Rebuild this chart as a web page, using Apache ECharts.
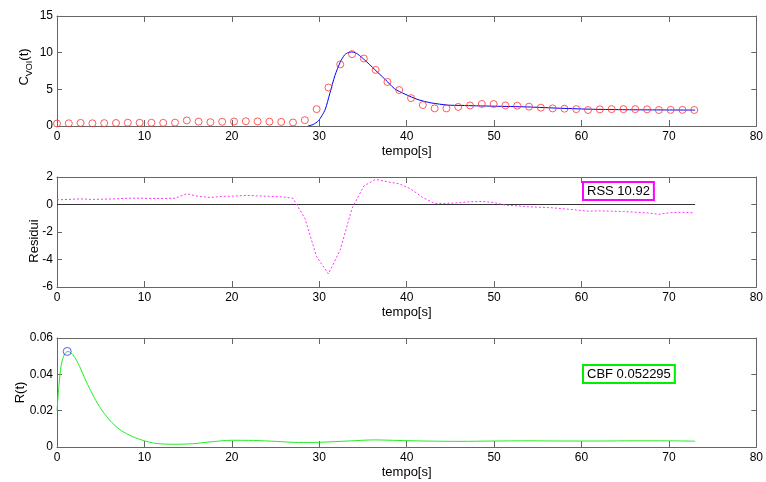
<!DOCTYPE html>
<html>
<head>
<meta charset="utf-8">
<script src="https://cdn.jsdelivr.net/npm/echarts@6/dist/echarts.min.js"></script>
<style>
html,body{margin:0;padding:0;background:#fff;}
#c{width:766px;height:482px;}
</style>
</head>
<body>
<div id="c"></div>
<script>
// ---- data ----
const time = [0,1.35,2.7,4.05,5.4,6.75,8.1,9.45,10.8,12.15,13.5,14.85,16.2,17.55,18.9,20.25,21.6,22.95,24.3,25.65,27,28.35,29.7,31.05,32.4,33.75,35.1,36.45,37.8,39.15,40.5,41.85,43.2,44.55,45.9,47.25,48.6,49.95,51.3,52.65,54,55.35,56.7,58.05,59.4,60.75,62.1,63.45,64.8,66.15,67.5,68.85,70.2,71.55,72.9];
const conc = [0.34,0.37,0.42,0.37,0.39,0.41,0.45,0.44,0.44,0.43,0.46,0.76,0.6,0.52,0.58,0.61,0.65,0.63,0.59,0.56,0.48,0.8,2.3,5.25,8.4,9.8,9.2,7.65,6.0,4.9,3.8,2.86,2.4,2.4,2.6,2.8,3.0,3.0,2.8,2.77,2.64,2.5,2.4,2.36,2.3,2.18,2.27,2.3,2.3,2.3,2.27,2.18,2.2,2.2,2.18];
const fitTime = [28.7,29.3,29.9,30.3,30.7,31.2,31.8,32.4,32.9,33.3,33.7,34.1,34.4,35.2,36.35,37.5,38.6,39.8,41.3,42.8,44.7,46.2,48,50,53.8,57.6,61.4,65.1,69,73];
const fitVal = [0,0.2,0.7,1.4,2.3,4.4,6.9,8.7,9.7,10.0,10.1,10.0,9.8,9.0,7.7,6.4,5.1,4.35,3.6,3.15,2.85,2.8,2.75,2.7,2.6,2.42,2.28,2.22,2.19,2.17];
const resid = [0.34,0.37,0.41,0.37,0.39,0.41,0.46,0.46,0.44,0.44,0.46,0.78,0.59,0.51,0.59,0.61,0.66,0.63,0.59,0.56,0.46,-1.0,-3.8,-5.05,-3.3,-0.28,1.35,1.83,1.65,1.5,1.12,0.5,0.08,0.08,0.12,0.2,0.22,0.15,-0.05,-0.1,-0.17,-0.2,-0.24,-0.32,-0.39,-0.49,-0.46,-0.49,-0.51,-0.56,-0.61,-0.71,-0.59,-0.56,-0.61];
const zeroLineX = [0,73];
const rTime = [0,0.23,0.49,0.87,1.25,1.82,2.58,3.34,4.1,4.85,6.0,7.1,8.26,9.78,11.3,13.5,15.5,17.5,20,22.5,25,27.6,30,33.3,36.3,39,42,46,50,54,58,62,66,70,73];
const rVal = [0.0199,0.0342,0.0453,0.0512,0.0526,0.0508,0.0444,0.0361,0.0287,0.0223,0.0149,0.0099,0.0066,0.0037,0.002,0.0015,0.0018,0.0028,0.0037,0.0036,0.0031,0.0025,0.0026,0.0033,0.0039,0.0036,0.0033,0.0031,0.0033,0.0034,0.0033,0.0033,0.0034,0.0034,0.0032];
const peakT = [1.17];
const peakR = [0.0526];
const xTicks = {min:0, max:80, interval:10};
const rssText = 'RSS 10.92';
const cbfText = 'CBF 0.052295';

// ---- chart ----
const FONT = 'Arial, "Liberation Sans", Helvetica, sans-serif';
const AX = '#666';
const grids = [
  {left:57, right:6, top:16, height:110},
  {left:57, right:6, top:177, height:110},
  {left:57, right:6, top:338, height:109}
];
const xAxes = [], yAxes = [];
const yCfg = [
  {min:0,max:15,interval:5,gap:23,pad:[0,0,0,8],name:'{m|C}{s|VOI}{m|(t)}'},
  {min:-6,max:2,interval:2,gap:16,pad:[0,18,0,0],name:'Residui'},
  {min:0,max:0.06,interval:0.02,gap:30,pad:0,name:'R(t)'}
];
for (let g=0; g<3; g++){
  xAxes.push({type:'value',gridIndex:g,position:'bottom',min:xTicks.min,max:xTicks.max,interval:xTicks.interval,
    name:'tempo[s]',nameLocation:'middle',nameGap:19,nameMoveOverlap:false,
    nameTextStyle:{fontFamily:FONT,fontSize:13,color:'#000'},
    axisLine:{onZero:false,lineStyle:{color:AX,width:1}},
    axisTick:{inside:true,length:6,lineStyle:{color:AX}},
    axisLabel:{margin:5,fontFamily:FONT,fontSize:12,color:'#000'},
    splitLine:{show:false}});
  xAxes.push({type:'value',gridIndex:g,position:'top',min:xTicks.min,max:xTicks.max,interval:xTicks.interval,
    axisLine:{onZero:false,lineStyle:{color:AX,width:1}},
    axisTick:{inside:true,length:6,lineStyle:{color:AX}},
    axisLabel:{show:false},splitLine:{show:false}});
  const c = yCfg[g];
  yAxes.push({type:'value',gridIndex:g,position:'left',min:c.min,max:c.max,interval:c.interval,
    name:c.name,nameLocation:'middle',nameGap:c.gap,nameRotate:90,nameMoveOverlap:false,
    nameTextStyle:{fontFamily:FONT,fontSize:13,color:'#000',padding:c.pad,
      rich:{m:{fontFamily:FONT,fontSize:13,lineHeight:20,verticalAlign:'middle',color:'#000'},
            s:{fontFamily:FONT,fontSize:9,lineHeight:10,verticalAlign:'bottom',color:'#000'}}},
    axisLine:{onZero:false,lineStyle:{color:AX,width:1}},
    axisTick:{inside:true,length:5,lineStyle:{color:AX}},
    axisLabel:{margin:4,fontFamily:FONT,fontSize:12,color:'#000'},
    splitLine:{show:false}});
  yAxes.push({type:'value',gridIndex:g,position:'right',min:c.min,max:c.max,interval:c.interval,
    axisLine:{onZero:false,lineStyle:{color:AX,width:1}},
    axisTick:{inside:true,length:5,lineStyle:{color:AX}},
    axisLabel:{show:false},splitLine:{show:false}});
}
const zip = (a,b)=>a.map((v,i)=>[v,b[i]]);
const option = {
  animation:false,
  backgroundColor:'#fff',
  grid:grids,
  xAxis:xAxes,
  yAxis:yAxes,
  series:[
    {type:'line',xAxisIndex:0,yAxisIndex:0,data:zip(fitTime,fitVal),smooth:0.25,showSymbol:false,
      lineStyle:{color:'#0000ff',width:1},z:2},
    {type:'scatter',xAxisIndex:0,yAxisIndex:0,data:zip(time,conc),symbol:'circle',symbolSize:7,
      itemStyle:{color:'rgba(0,0,0,0)',borderColor:'#ff3333',borderWidth:1},z:3},
    {type:'line',xAxisIndex:2,yAxisIndex:2,data:zip(zeroLineX,[0,0]),showSymbol:false,
      lineStyle:{color:'#333',width:1},z:1},
    {type:'line',xAxisIndex:2,yAxisIndex:2,data:zip(time,resid),showSymbol:false,
      lineStyle:{color:'#ff33ff',width:1,type:[2,2]},z:2},
    {type:'line',xAxisIndex:4,yAxisIndex:4,data:zip(rTime,rVal),smooth:0.3,showSymbol:false,
      lineStyle:{color:'#22ee22',width:1},z:2},
    {type:'scatter',xAxisIndex:4,yAxisIndex:4,data:zip(peakT,peakR),symbol:'circle',symbolSize:8,
      itemStyle:{color:'rgba(0,0,0,0)',borderColor:'#3333ff',borderWidth:1},z:3}
  ],
  graphic:[
    {type:'text',left:582,top:181,z:10,style:{text:rssText,fontFamily:FONT,fontSize:13,fill:'#000',
      backgroundColor:'#fff',borderColor:'#ff00ff',borderWidth:2,padding:[2,3,1,3]}},
    {type:'text',left:582,top:364,z:10,style:{text:cbfText,fontFamily:FONT,fontSize:13,fill:'#000',
      backgroundColor:'#fff',borderColor:'#00ee00',borderWidth:2,padding:[2,3,1,3]}}
  ]
};
const chart = echarts.init(document.getElementById('c'),null,{renderer:'canvas'});
chart.setOption(option);
</script>
</body>
</html>
